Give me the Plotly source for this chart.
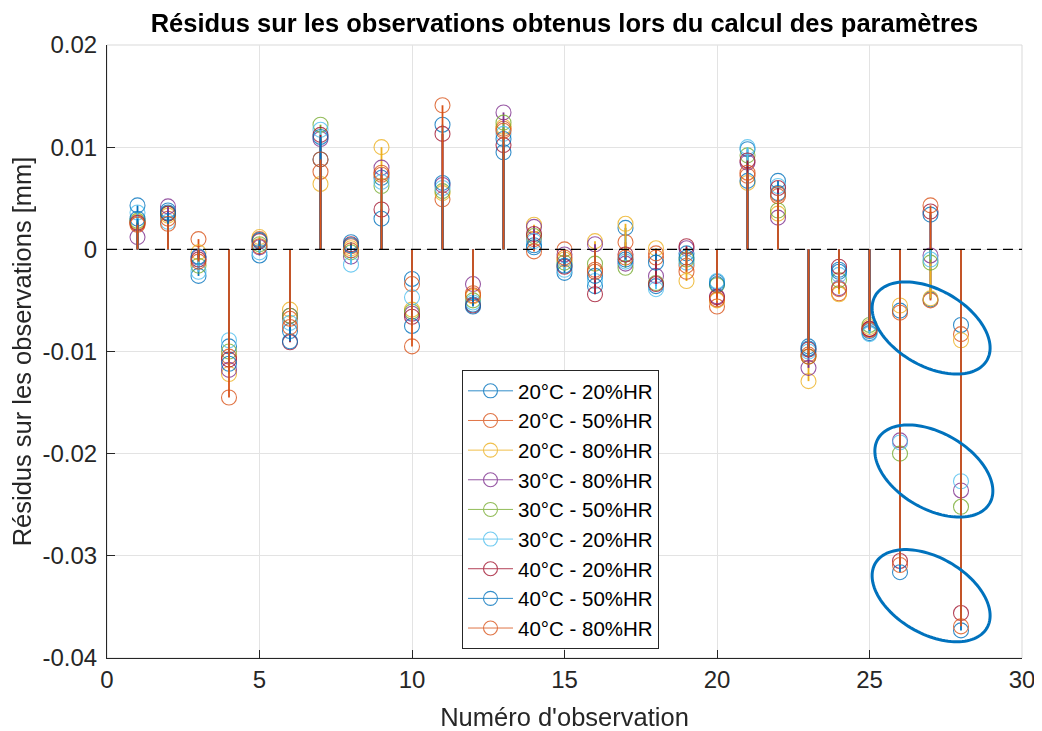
import numpy as np
import plotly.graph_objects as go

obs = list(range(1, 29))

names = ["20°C - 20%HR", "20°C - 50%HR", "20°C - 80%HR", "30°C - 80%HR", "30°C - 50%HR",
         "30°C - 20%HR", "40°C - 20%HR", "40°C - 50%HR", "40°C - 80%HR"]
colors = ["#0072BD", "#D95319", "#EDB120", "#7E2F8E", "#77AC30", "#4DBEEE", "#A2142F", "#0072BD", "#D95319"]

s_20_20 = [0.0043, 0.0038, -0.0026, -0.0095, -0.0006, -0.0080, 0.0088, 0.0007, 0.0070, -0.0029, 0.0122, -0.0054, 0.0095, 0.0004,
           -0.0023, -0.0036, 0.0021, -0.0036, -0.0004, -0.0032, 0.0098, 0.0067, -0.0095, -0.0020, -0.0082, -0.0060, -0.0049, -0.0074]
s_20_50 = [0.0025, 0.0030, 0.0010, -0.0105, 0.0010, -0.0068, 0.0076, 0.0003, 0.0073, -0.0034, 0.0049, -0.0043, 0.0118, 0.0010,
           0.0000, -0.0020, 0.0007, -0.0008, -0.0016, -0.0056, 0.0072, 0.0052, -0.0103, -0.0043, -0.0078, -0.0062, -0.0050, -0.0083]
s_20_80 = [0.0027, 0.0033, -0.0003, -0.0122, 0.0012, -0.0059, 0.0064, 0.0001, 0.0100, -0.0059, 0.0055, -0.0046, 0.0120, 0.0024,
           -0.0010, 0.0008, 0.0025, 0.0001, -0.0031, -0.0050, 0.0065, 0.0035, -0.0129, -0.0044, -0.0076, -0.0055, -0.0048, -0.0089]
s_30_80 = [0.0012, 0.0042, -0.0008, -0.0118, 0.0002, -0.0065, 0.0108, -0.0007, 0.0080, -0.0063, 0.0063, -0.0034, 0.0134, 0.0022,
           -0.0005, 0.0005, -0.0014, -0.0026, 0.0001, -0.0046, 0.0085, 0.0031, -0.0116, -0.0038, -0.0078, -0.0187, -0.0006, -0.0236]
s_30_50 = [0.0028, 0.0035, -0.0016, -0.0100, 0.0005, -0.0065, 0.0122, -0.0003, 0.0062, -0.0061, 0.0057, -0.0050, 0.0124, 0.0013,
           -0.0013, -0.0014, -0.0018, -0.0033, -0.0010, -0.0035, 0.0092, 0.0038, -0.0105, -0.0030, -0.0074, -0.0200, -0.0013, -0.0252]
s_30_20 = [0.0036, 0.0027, -0.0022, -0.0089, -0.0003, -0.0072, 0.0117, -0.0015, 0.0066, -0.0047, 0.0060, -0.0052, 0.0113, 0.0008,
           -0.0020, -0.0031, -0.0012, -0.0039, -0.0013, -0.0031, 0.0100, 0.0062, -0.0100, -0.0025, -0.0083, -0.0189, -0.0010, -0.0227]
s_40_20 = [0.0026, 0.0035, -0.0010, -0.0108, 0.0008, -0.0091, 0.0112, 0.0005, 0.0039, -0.0066, 0.0113, -0.0055, 0.0102, 0.0015,
           -0.0017, -0.0044, -0.0005, -0.0034, 0.0003, -0.0047, 0.0087, 0.0060, -0.0098, -0.0017, -0.0078, -0.0305, 0.0037, -0.0356]
s_40_50 = [0.0030, 0.0036, -0.0007, -0.0112, 0.0009, -0.0090, 0.0110, 0.0004, 0.0030, -0.0075, 0.0065, -0.0056, 0.0108, 0.0002,
           -0.0016, -0.0026, -0.0010, -0.0013, -0.0008, -0.0034, 0.0067, 0.0055, -0.0097, -0.0022, -0.0080, -0.0316, 0.0034, -0.0373]
s_40_80 = [0.0024, 0.0025, -0.0012, -0.0145, 0.0003, -0.0076, 0.0088, -0.0001, 0.0075, -0.0095, 0.0141, -0.0045, 0.0116, -0.0002,
           -0.0008, -0.0022, -0.0008, -0.0004, -0.0022, -0.0049, 0.0075, 0.0054, -0.0105, -0.0039, -0.0079, -0.0309, 0.0043, -0.0369]

series = [s_20_20, s_20_50, s_20_80, s_30_80, s_30_50, s_30_20, s_40_20, s_40_50, s_40_80]

ytick_vals = [0.02, 0.01, 0, -0.01, -0.02, -0.03, -0.04]
ytick_text = ["0.02", "0.01", "0", "-0.01", "-0.02", "-0.03", "-0.04"]
xtick_vals = [0, 5, 10, 15, 20, 25, 30]

FONT = "Liberation Sans, Arial, sans-serif"
TXT = "#262626"

fig = go.Figure()

for i, (name, col, vals) in enumerate(zip(names, colors, series)):
    sx, sy = [], []
    for xv, yv in zip(obs, vals):
        sx += [xv, xv, None]
        sy += [0, yv, None]
    fig.add_trace(go.Scatter(x=sx, y=sy, mode="lines", line=dict(color=col, width=1.8),
                             showlegend=False, hoverinfo="skip", legendgroup=f"g{i}"))
    fig.add_trace(go.Scatter(x=obs, y=vals, mode="markers", name=name, showlegend=False,
                             legendgroup=f"g{i}",
                             marker=dict(symbol="circle-open", size=15, color=col, line=dict(width=1.1)),
                             opacity=0.8))
    fig.add_trace(go.Scatter(x=[None], y=[None], mode="lines+markers", name=name, legendgroup=f"g{i}",
                             line=dict(color=col, width=1),
                             marker=dict(symbol="circle-open", size=14, color=col, line=dict(width=1.1)),
                             opacity=0.8))

# page offset (browser body margin) and plot-area geometry in page pixels
OFF = 8
W, H = 1042 - OFF, 731 - OFF
L, R, T, B = 107, 1022, 45, 658
px_per_x = (R - L) / 30.0
px_per_y = (B - T) / 0.06

shapes = []
shapes.append(dict(type="rect", xref="paper", yref="paper", x0=0, x1=1, y0=0, y1=1,
                   line=dict(color="#d9d9d9", width=1), layer="below"))
shapes.append(dict(type="line", xref="paper", yref="y", x0=0, x1=1, y0=0, y1=0,
                   line=dict(color="black", width=1.2, dash="10px,6px"), layer="above"))

# ellipse annotations (centers in data coords, axes in pixels, tilt in degrees)
ell_centers = [(27.02, -0.0077), (27.11, -0.0217), (27.02, -0.0339)]
a_px, b_px, theta = 64.5, 38.0, 30.0
t = np.linspace(0, 2 * np.pi, 120)
th = np.deg2rad(theta)
for cx, cy in ell_centers:
    ux = a_px * np.cos(t) * np.cos(th) - b_px * np.sin(t) * np.sin(th)
    uy = a_px * np.cos(t) * np.sin(th) + b_px * np.sin(t) * np.cos(th)
    xs = cx + ux / px_per_x
    ys = cy - uy / px_per_y
    path = "M " + " L ".join(f"{x:.5f},{y:.6f}" for x, y in zip(xs, ys)) + " Z"
    shapes.append(dict(type="path", xref="x", yref="y", path=path,
                       line=dict(color="#0072BD", width=3), layer="above"))

fig.update_layout(
    width=W, height=H,
    margin=dict(l=L - OFF, r=1042 - R, t=T - OFF, b=731 - B),
    paper_bgcolor="white", plot_bgcolor="white",
    font=dict(family=FONT, color=TXT, size=24),
    title=dict(text="<b>Résidus sur les observations obtenus lors du calcul des paramètres</b>",
               x=((L + R) / 2 - OFF) / W, xanchor="center", y=1 - (23 - OFF) / H, yanchor="middle",
               font=dict(size=25.5, color="black", family=FONT)),
    xaxis=dict(range=[0, 30], tickvals=xtick_vals, ticks="inside", ticklen=8, tickcolor=TXT,
               showgrid=True, gridcolor="#e3e3e3", gridwidth=1, zeroline=False,
               showline=True, linecolor=TXT, linewidth=1, automargin=False,
               tickfont=dict(size=24, color=TXT),
               title=dict(text="Numéro d'observation", font=dict(size=25.5, color=TXT), standoff=16)),
    yaxis=dict(range=[-0.04, 0.02], tickvals=ytick_vals, ticktext=ytick_text, ticks="inside",
               ticklen=8, tickcolor=TXT, showgrid=True, gridcolor="#e3e3e3", gridwidth=1,
               zeroline=False, showline=True, linecolor=TXT, linewidth=1, automargin=False,
               tickfont=dict(size=24, color=TXT), ticklabelstandoff=4,
               title=dict(text="Résidus sur les observations [mm]", font=dict(size=25.5, color=TXT), standoff=3)),
    legend=dict(x=(462 - L) / (R - L), y=(B - 370) / (B - T), xanchor="left", yanchor="top",
                bgcolor="white", bordercolor=TXT, borderwidth=1,
                font=dict(size=20.5, color="black", family=FONT), tracegroupgap=0,
                itemwidth=45),
    shapes=shapes,
    showlegend=True,
)

fig.write_html("out.html")
